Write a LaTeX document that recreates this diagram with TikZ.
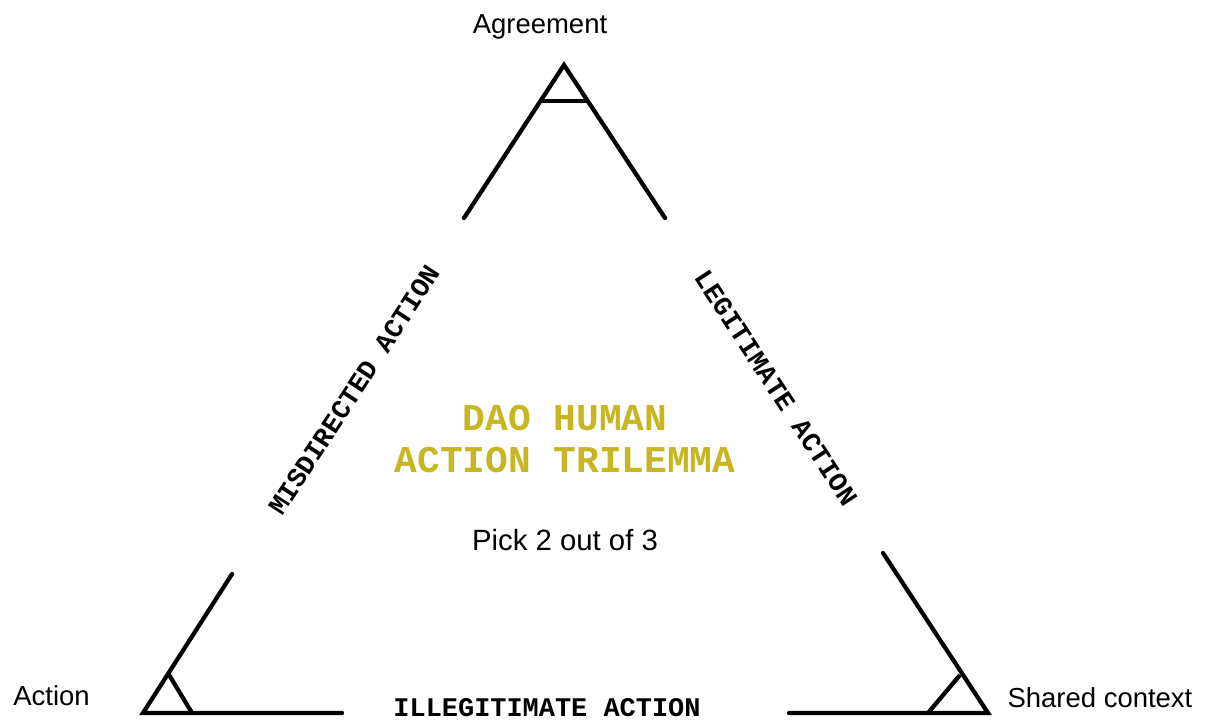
\documentclass[tikz,border=0pt]{standalone}
\usepackage{fontspec}
\setmainfont{Liberation Sans}
\newfontfamily\labelmono{Liberation Mono}
\definecolor{trigold}{RGB}{199,181,34}
\begin{document}
\begin{tikzpicture}[x=0.75pt,y=-0.75pt,
  side/.style={line width=3.2pt,line cap=round,line join=miter,draw=black},
  tick/.style={line width=3.2pt,line cap=butt,draw=black},
  corner/.style={inner sep=0pt,anchor=base,font=\fontsize{20.6}{24}\selectfont},
  edgelabel/.style={inner sep=0pt,font=\labelmono\bfseries\fontsize{20.2}{24}\selectfont},
  titleline/.style={inner sep=0pt,anchor=base,text=trigold,font=\labelmono\bfseries\fontsize{28.4}{31.5}\selectfont}]
  \useasboundingbox (0,0) rectangle (1210,725);

  % vertex corners
  \coordinate (top) at (564,65);
  \coordinate (topL) at (464,218);
  \coordinate (topR) at (665,218);
  \coordinate (topbarL) at (541,101);
  \coordinate (topbarR) at (587,101);

  \coordinate (bl) at (143,713);
  \coordinate (blUp) at (232,574);
  \coordinate (blRight) at (342,713);
  \coordinate (bltickA) at (168,673);
  \coordinate (bltickB) at (192,713);

  \coordinate (br) at (988,713);
  \coordinate (brUp) at (883,553);
  \coordinate (brLeft) at (789,713);
  \coordinate (brtickA) at (960,675);
  \coordinate (brtickB) at (928,713);

  \draw[side] (topL) -- (top) -- (topR);
  \draw[tick] (topbarL) -- (topbarR);

  \draw[side] (blUp) -- (bl) -- (blRight);
  \draw[tick] (bltickA) -- (bltickB);

  \draw[side] (brUp) -- (br) -- (brLeft);
  \draw[tick] (brtickA) -- (brtickB);

  % vertex names
  \node[corner] (agree) at (540,33) {Agreement};
  \node[corner] (act) at (51.5,705) {Action};
  \node[corner] (shared) at (1100,707) {Shared context};

  % edge names
  \node[edgelabel,rotate=57] (misdir) at (354,390) {MISDIRECTED ACTION};
  \node[edgelabel,rotate=-56.8] (legit) at (776,388) {LEGITIMATE ACTION};
  \node[edgelabel,anchor=base] (illegit) at (547,716) {ILLEGITIMATE ACTION};

  % centre title
  \node[titleline] (titleA) at (565,430) {DAO HUMAN};
  \node[titleline] (titleB) at (565,472) {ACTION TRILEMMA};
  \node[corner,font=\fontsize{22}{26}\selectfont] (pick) at (565,550) {Pick 2 out of 3};
\end{tikzpicture}
\end{document}
